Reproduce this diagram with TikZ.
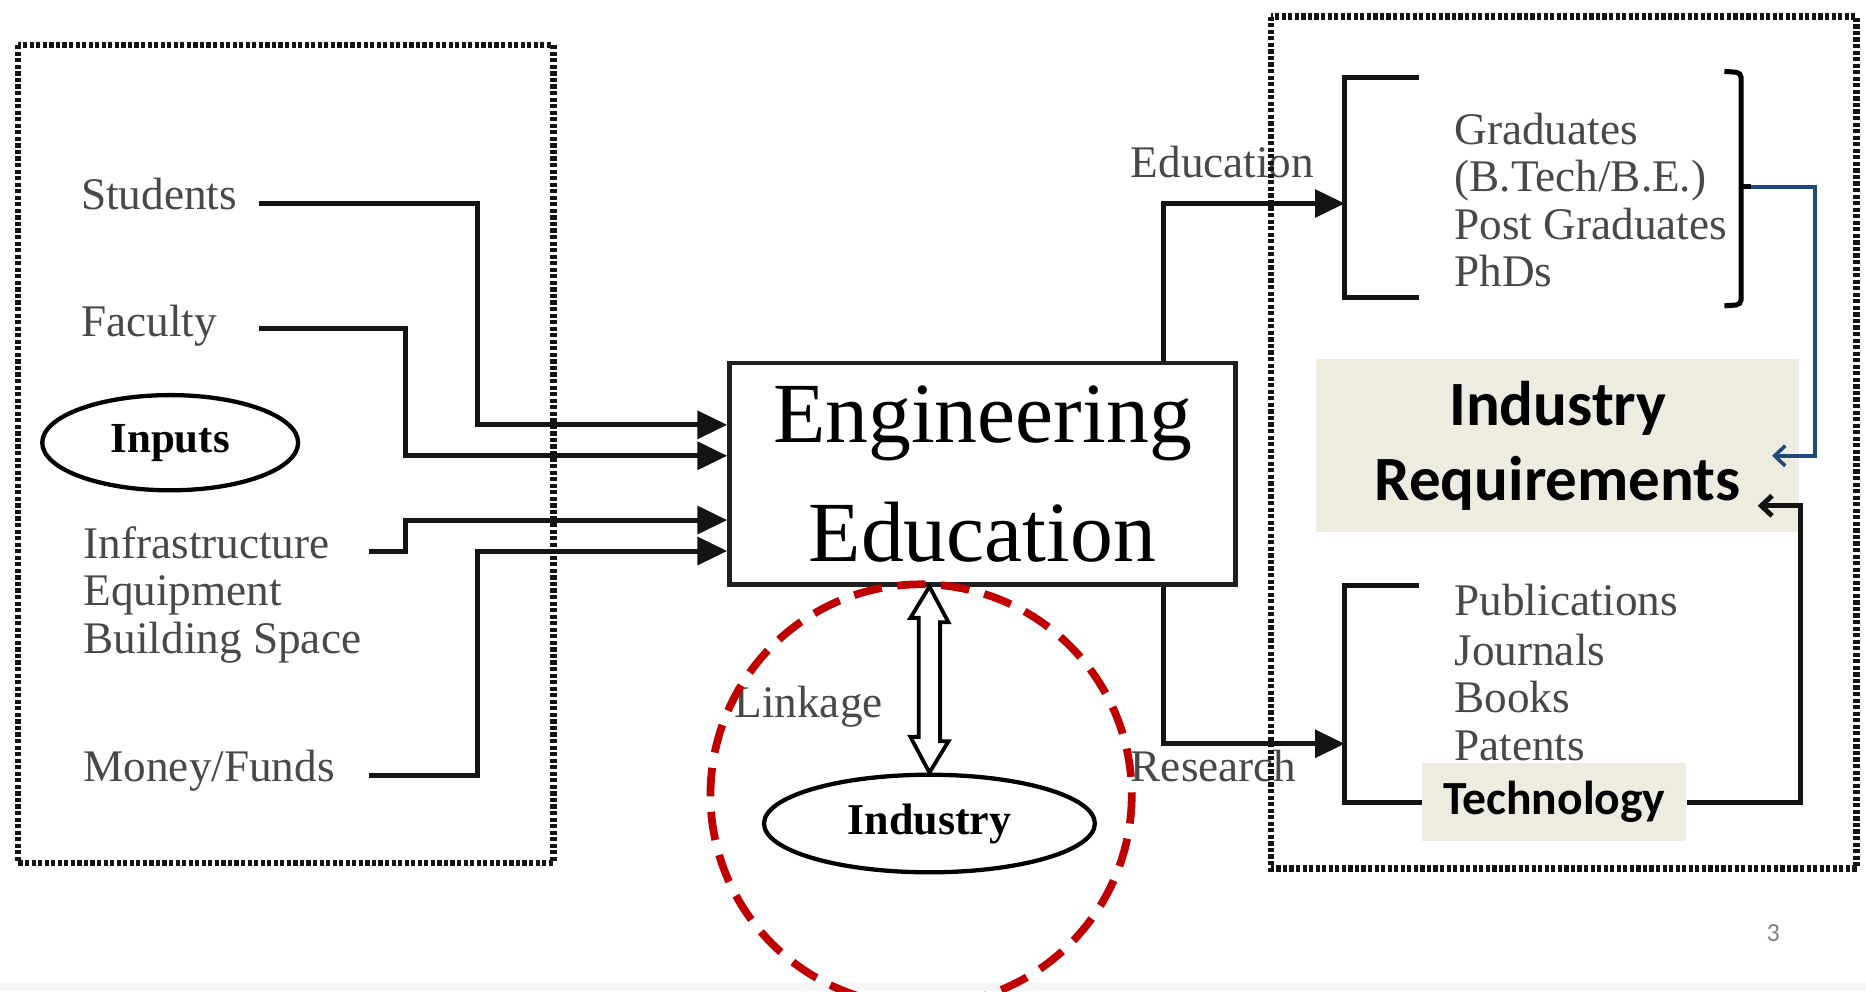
\documentclass[tikz,border=0pt]{standalone}
\usepackage{fontspec}
\setmainfont{Liberation Serif}
\newfontfamily\calibri{Carlito}
\usetikzlibrary{arrows.meta,shapes.geometric,calc}
\definecolor{txtgray}{RGB}{72,72,72}
\definecolor{beige}{RGB}{238,236,225}
\definecolor{darkred}{RGB}{192,0,0}
\definecolor{navy}{RGB}{31,73,125}
\begin{document}
\begin{tikzpicture}[x=1pt,y=-1pt,
  gtxt/.style={font=\fontsize{38}{40}\selectfont, text=txtgray, inner sep=0pt, anchor=base west},
  conn/.style={line width=4.2pt, draw=black!92},
  inarr/.style={conn, -{Triangle[length=25pt,width=23pt]}},
  barb/.style={-{Straight Barb[length=9pt,width=17pt]}},
  dotbox/.style={line width=5.5pt, dash pattern=on 3.5pt off 2pt, draw=black!92},
  oval/.style={draw, line width=3.6pt, ellipse, inner sep=0pt},
  hl/.style={fill=beige, inner sep=0pt, text=black}]
\useasboundingbox (0,0) rectangle (1568,833);
\clip (0,0) rectangle (1568,833);
\fill[white] (0,0) rectangle (1568,833);
\fill[gray!7] (0,826) rectangle (1568,833);

% ---------- inputs ----------
\node[gtxt] (stud)  at (68,176) {Students};
\node[gtxt] (fac)   at (68,283) {Faculty};
\node[gtxt] (infra) at (70,469) {Infrastructure};
\node[gtxt] (equip) at (70,509) {Equipment};
\node[gtxt] (build) at (70,549) {Building Space};
\node[gtxt] (money) at (70,657) {Money/Funds};
\node[oval, minimum width=215pt, minimum height=80pt,
      font=\bfseries\fontsize{36}{40}\selectfont] (inputs) at (143,372) {Inputs};

% ---------- central box ----------
\node[draw=black!88, line width=3.8pt, minimum width=425pt, minimum height=186pt,
      inner sep=0pt, align=center, font=\fontsize{72}{100}\selectfont] (ee) at (825.5,398)
      {Engineering\\Education};

% input connectors
\coordinate (s0) at (218,171); \coordinate (s1) at (401,357);
\coordinate (f0) at (218,276); \coordinate (f1) at (341,383);
\coordinate (i0) at (310,463); \coordinate (i1) at (341,437);
\coordinate (m0) at (310,652); \coordinate (m1) at (401,463);
\draw[inarr] (s0) -| (s1) -- (s1 -| ee.west);
\draw[inarr] (f0) -| (f1) -- (f1 -| ee.west);
\draw[inarr] (i0) -| (i1) -- (i1 -| ee.west);
\draw[inarr] (m0) -| (m1) -- (m1 -| ee.west);

% ---------- industry ----------
\node[oval, minimum width=278pt, minimum height=82pt,
      font=\bfseries\fontsize{37}{40}\selectfont] (ind) at (781,692) {Industry};
\node[gtxt] (link) at (617,603) {Linkage};
\coordinate (lt) at (ind.north |- ee.south);
\draw[line width=3.2pt, fill=white, line join=miter]
  (lt) -- ++(16,30) -- ++(-7,0) -- ++(0,100) -- ++(7,0) -- (ind.north)
  -- ++(-16,-30) -- ++(7,0) -- ++(0,-100) -- ++(-7,0) -- cycle;

% ---------- outputs ----------
\node[gtxt] (edu) at (950,149) {Education};
\node[gtxt] (res) at (950,657) {Research};

\node[gtxt] (grad) at (1222,121) {Graduates};
\node[gtxt] (btech) at (1222,161) {(B.Tech/B.E.)};
\node[gtxt] (pg) at (1222,201) {Post Graduates};
\node[gtxt] (phd) at (1222,241) {PhDs};

\node[gtxt] (pub) at (1222,517) {Publications};
\node[gtxt] (jour) at (1222,559) {Journals};
\node[gtxt] (book) at (1222,599) {Books};
\node[gtxt] (pat) at (1222,639) {Patents};

\node[hl, minimum width=222pt, minimum height=66pt,
      font=\calibri\bfseries\fontsize{40}{48}\selectfont] (tech) at (1306,674) {Technology};
\node[hl, minimum width=406pt, minimum height=145pt, align=center,
      font=\calibri\bfseries\fontsize{53}{63}\selectfont] (ir) at (1309,374.5)
      {Industry\\Requirements};

% education branch
\coordinate (eu) at (978,171); \coordinate (gbr) at (1130,171);
\coordinate (gtop) at (1192,65); \coordinate (gbot) at (1192,250);
\draw[inarr] (ee.north -| eu) -- (eu) -- (gbr);
\draw[conn] (gtop) -- (gtop -| gbr) -- (gbot -| gbr) -- (gbot);

% research branch
\coordinate (rd) at (978,625); \coordinate (rbr) at (1130,625);
\coordinate (rtop) at (1192,492);
\draw[inarr] (ee.south -| rd) -- (rd) -- (rbr);
\draw[conn] (rtop) -- (rtop -| rbr) -- (tech.west -| rbr) -- (tech.west);

% right bracket of graduates
\coordinate (bq) at (1463,157);
\draw[line width=4.2pt, rounded corners=4pt] (1449,60) -- (1463,61) -- (1463,256) -- (1449,257);
\draw[line width=4.2pt] (bq) -- ++(8,0);

% feedback to industry requirements
\coordinate (br) at (1525,383); \coordinate (bt) at (1489,383);
\draw[navy, line width=3pt, barb] ($(bq)+(8,0)$) -| (br) -- (bt);
\coordinate (tr) at (1513,425); \coordinate (tt) at (1477,425);
\draw[conn, barb] (tech.east) -| (tr) -- (tt);

% ---------- dotted frames ----------
\draw[dotbox] (15,38) rectangle (465,725);
\draw[dotbox] (1068,14) rectangle (1560,730);

% red dashed circle
\coordinate (rc) at (774,668);
\draw[darkred, line width=6.5pt, dash pattern=on 24pt off 13pt] (rc) circle[radius=177];

% page number
\node[font=\calibri\fontsize{22}{26}\selectfont, text=gray] (pnum) at (1490,784) {3};
\end{tikzpicture}
\end{document}
